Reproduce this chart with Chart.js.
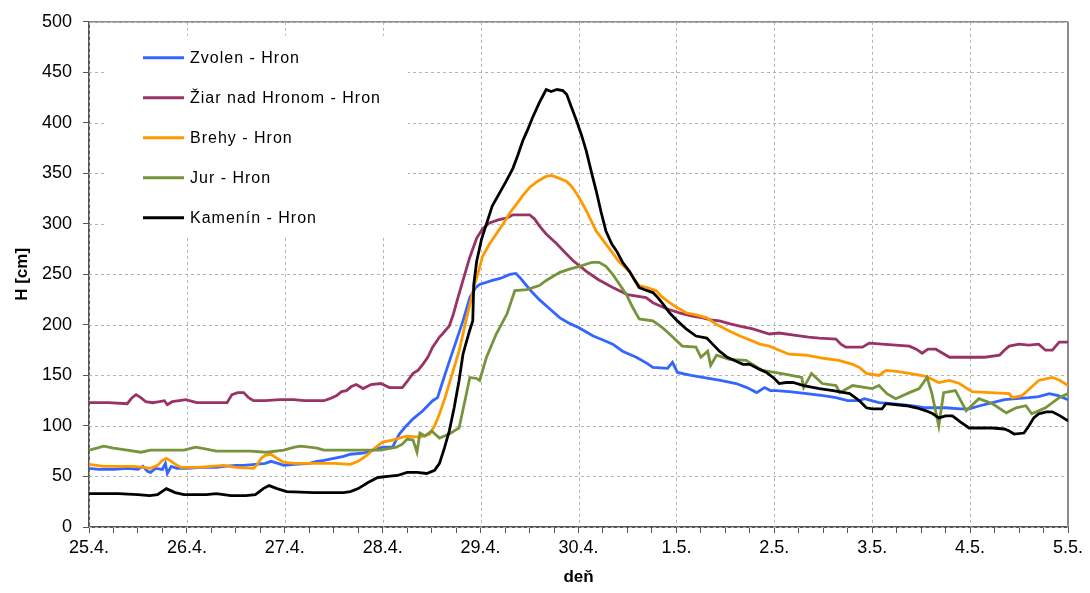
<!DOCTYPE html>
<html>
<head>
<meta charset="utf-8">
<script src="https://cdn.jsdelivr.net/npm/chart.js@4.4.0/dist/chart.umd.min.js"></script>
<style>
html,body{margin:0;padding:0;background:#fff;}
canvas{display:block;}
</style>
</head>
<body>
<canvas id="c" width="1090" height="593"></canvas>
<script>
// days since 25.4. 00:00
const dayLabels = ["25.4.","26.4.","27.4.","28.4.","29.4.","30.4.","1.5.","2.5.","3.5.","4.5.","5.5."];
const names = ["Zvolen - Hron","Žiar nad Hronom - Hron","Brehy - Hron","Jur - Hron","Kamenín - Hron"];
const colors = ["#3366ff","#993366","#ff9900","#77933c","#000000"];

// [day, H cm]
const zvolen = [[0,58],[0.1,57],[0.25,57],[0.4,58],[0.5,57],[0.55,60],[0.6,55],[0.63,54],[0.68,58],[0.75,57],[0.78,63],[0.8,53],[0.84,60],[0.9,58],[1.0,58],[1.15,59],[1.3,59],[1.38,60],[1.5,61],[1.58,61],[1.7,62],[1.8,63],[1.86,65],[1.93,63],[1.99,61],[2.1,62],[2.25,63],[2.33,65],[2.4,66],[2.5,68],[2.6,70],[2.67,72],[2.8,73],[2.9,76],[3.0,79],[3.1,79],[3.17,92],[3.24,100],[3.31,107],[3.41,115],[3.51,125],[3.56,128],[3.6,140],[3.65,155],[3.73,178],[3.82,204],[3.89,227],[3.95,237],[3.99,240],[4.12,244],[4.2,246],[4.3,250],[4.36,251],[4.4,247],[4.46,240],[4.53,232],[4.6,225],[4.67,219],[4.81,207],[4.9,202],[5.01,197],[5.15,189],[5.25,185],[5.35,181],[5.45,174],[5.59,168],[5.7,162],[5.76,158],[5.91,157],[5.96,163],[6.01,153],[6.15,150],[6.27,148],[6.45,145],[6.61,142],[6.72,138],[6.82,133],[6.9,138],[6.96,135],[7.02,135],[7.15,134],[7.33,132],[7.5,130],[7.63,128],[7.75,125],[7.87,125],[7.92,127],[8.07,123],[8.2,122],[8.4,120],[8.55,118],[8.75,118],[8.9,117],[8.99,117],[9.1,120],[9.23,123],[9.35,126],[9.47,127],[9.6,128],[9.7,129],[9.81,132],[9.9,130],[10,126]];

const ziar = [[0,123],[0.2,123],[0.39,122],[0.44,128],[0.48,131],[0.53,128],[0.58,124],[0.65,123],[0.72,124],[0.77,125],[0.8,121],[0.85,124],[0.92,125],[0.99,126],[1.1,123],[1.25,123],[1.41,123],[1.46,131],[1.52,133],[1.58,133],[1.63,128],[1.68,125],[1.8,125],[1.95,126],[2.09,126],[2.2,125],[2.4,125],[2.46,127],[2.53,130],[2.58,134],[2.63,135],[2.68,139],[2.73,141],[2.8,137],[2.88,141],[2.98,142],[3.07,138],[3.2,138],[3.25,144],[3.31,152],[3.36,155],[3.41,161],[3.46,168],[3.51,178],[3.58,188],[3.61,191],[3.68,199],[3.72,210],[3.76,224],[3.82,244],[3.89,267],[3.96,286],[4.02,295],[4.09,301],[4.18,304],[4.27,306],[4.33,309],[4.4,309],[4.5,309],[4.55,305],[4.6,298],[4.67,290],[4.78,280],[4.86,272],[4.94,264],[5.08,253],[5.2,245],[5.35,237],[5.5,230],[5.69,227],[5.76,222],[5.9,216],[6.03,212],[6.15,209],[6.27,207],[6.35,205],[6.44,204],[6.55,201],[6.68,198],[6.78,196],[6.95,191],[7.05,192],[7.2,190],[7.35,188],[7.46,187],[7.63,186],[7.68,181],[7.73,178],[7.9,178],[7.97,182],[8.1,181],[8.38,179],[8.45,176],[8.51,172],[8.57,176],[8.65,176],[8.72,172],[8.79,168],[9.0,168],[9.15,168],[9.3,170],[9.35,175],[9.4,179],[9.5,181],[9.6,180],[9.7,181],[9.77,175],[9.84,175],[9.91,183],[10,183]];

const brehy = [[0,62],[0.15,60],[0.29,60],[0.45,60],[0.56,59],[0.63,58],[0.7,61],[0.75,66],[0.79,68],[0.84,65],[0.9,61],[0.94,59],[1.1,59],[1.25,60],[1.38,61],[1.5,59],[1.68,58],[1.72,62],[1.76,68],[1.8,71],[1.86,72],[1.92,68],[1.99,64],[2.1,63],[2.3,63],[2.5,63],[2.67,62],[2.75,65],[2.84,71],[2.92,78],[3.0,84],[3.1,86],[3.24,90],[3.38,89],[3.48,92],[3.53,100],[3.58,112],[3.63,126],[3.68,142],[3.73,158],[3.78,174],[3.85,204],[3.94,240],[3.99,257],[4.02,268],[4.09,280],[4.16,290],[4.23,300],[4.3,311],[4.37,320],[4.43,328],[4.5,336],[4.58,342],[4.67,347],[4.72,348],[4.78,346],[4.88,342],[4.93,337],[4.98,330],[5.03,322],[5.08,313],[5.13,303],[5.18,293],[5.28,280],[5.35,271],[5.41,263],[5.52,253],[5.57,245],[5.62,239],[5.7,237],[5.79,234],[5.85,228],[5.93,222],[6.01,217],[6.1,212],[6.2,210],[6.31,207],[6.4,201],[6.54,194],[6.65,189],[6.78,184],[6.85,181],[6.95,179],[7.05,175],[7.15,171],[7.33,170],[7.5,167],[7.66,165],[7.8,161],[7.87,158],[7.94,152],[8.07,150],[8.14,155],[8.25,154],[8.38,152],[8.55,149],[8.68,143],[8.79,145],[8.89,142],[9.02,134],[9.2,133],[9.4,132],[9.43,128],[9.53,130],[9.6,136],[9.7,145],[9.84,148],[9.92,145],[10,140]];

const jur = [[0,76],[0.08,78],[0.15,80],[0.25,78],[0.39,76],[0.53,74],[0.63,76],[0.8,76],[0.97,76],[1.09,79],[1.2,77],[1.3,75],[1.5,75],[1.65,75],[1.81,74],[1.99,76],[2.1,79],[2.16,80],[2.25,79],[2.33,78],[2.4,76],[2.5,76],[2.7,76],[2.98,76],[3.14,79],[3.2,82],[3.25,87],[3.31,86],[3.35,74],[3.38,93],[3.43,90],[3.5,95],[3.58,88],[3.68,92],[3.78,98],[3.84,125],[3.89,148],[3.96,147],[3.99,145],[4.06,168],[4.16,191],[4.27,211],[4.35,234],[4.47,235],[4.6,239],[4.67,244],[4.81,252],[4.9,255],[5.01,258],[5.14,262],[5.21,262],[5.28,258],[5.35,250],[5.42,240],[5.49,230],[5.55,218],[5.62,206],[5.76,204],[5.86,197],[5.93,191],[6.06,179],[6.2,178],[6.25,168],[6.32,174],[6.35,160],[6.41,170],[6.54,166],[6.71,165],[6.88,155],[7.0,153],[7.12,151],[7.28,148],[7.3,138],[7.38,152],[7.49,142],[7.63,140],[7.67,133],[7.8,140],[8.0,137],[8.07,140],[8.15,132],[8.24,127],[8.38,133],[8.48,137],[8.56,148],[8.61,132],[8.68,100],[8.73,133],[8.85,135],[8.96,115],[9.09,127],[9.23,122],[9.37,113],[9.47,118],[9.57,120],[9.63,112],[9.77,118],[9.91,128],[10,132]];

const kamenin = [[0,33],[0.3,33],[0.5,32],[0.62,31],[0.7,32],[0.79,38],[0.88,34],[0.97,32],[1.2,32],[1.3,33],[1.45,31],[1.6,31],[1.7,32],[1.78,38],[1.84,41],[1.92,38],[2.02,35],[2.3,34],[2.6,34],[2.67,35],[2.75,38],[2.85,44],[2.95,49],[3.05,50],[3.15,51],[3.25,54],[3.35,54],[3.45,53],[3.53,56],[3.58,63],[3.63,78],[3.68,95],[3.73,118],[3.78,145],[3.82,171],[3.86,185],[3.89,195],[3.92,204],[3.93,240],[3.96,263],[4.01,285],[4.06,300],[4.12,318],[4.19,330],[4.26,342],[4.33,355],[4.38,368],[4.43,382],[4.48,393],[4.53,405],[4.6,420],[4.67,433],[4.72,431],[4.78,433],[4.84,432],[4.88,428],[4.93,415],[4.98,402],[5.03,388],[5.08,372],[5.13,352],[5.18,333],[5.23,312],[5.28,293],[5.34,280],[5.39,273],[5.45,262],[5.52,253],[5.57,245],[5.62,237],[5.67,235],[5.76,232],[5.81,227],[5.86,221],[5.93,212],[6.01,204],[6.1,196],[6.2,189],[6.31,187],[6.38,180],[6.44,174],[6.52,168],[6.61,164],[6.68,161],[6.75,161],[6.85,156],[6.92,153],[7.0,147],[7.05,142],[7.12,143],[7.19,143],[7.3,140],[7.46,137],[7.6,135],[7.77,132],[7.87,125],[7.94,118],[8.0,117],[8.1,117],[8.14,122],[8.35,120],[8.45,118],[8.55,115],[8.62,112],[8.68,108],[8.75,110],[8.82,110],[8.9,104],[8.99,98],[9.1,98],[9.23,98],[9.35,97],[9.4,95],[9.45,92],[9.55,93],[9.6,100],[9.65,108],[9.7,112],[9.78,114],[9.84,114],[9.92,110],[10,105]];

const series = [zvolen, ziar, brehy, jur, kamenin];
const font = "'Liberation Sans', Arial, sans-serif";
const gridGray = "#b4b4b4";

// dashed grid, plot frame and in-plot legend
const decor = {
  id: "decor",
  beforeDatasetsDraw(c) {
    const a = c.chartArea, ctx = c.ctx, xs = c.scales.x, ys = c.scales.y;
    ctx.save();
    ctx.strokeStyle = gridGray;
    ctx.lineWidth = 1;
    ctx.setLineDash([3, 3]);
    ys.ticks.forEach(t => {
      const y = Math.round(ys.getPixelForValue(t.value)) + 0.5;
      ctx.beginPath(); ctx.moveTo(a.left, y); ctx.lineTo(a.right, y); ctx.stroke();
    });
    xs.ticks.forEach(t => {
      if (!Number.isInteger(t.value)) return;
      const x = Math.round(xs.getPixelForValue(t.value)) + 0.5;
      ctx.beginPath(); ctx.moveTo(x, a.top); ctx.lineTo(x, a.bottom); ctx.stroke();
    });
    ctx.setLineDash([]);
    ctx.strokeStyle = "#8c8c8c";
    ctx.lineWidth = 1.5;
    ctx.beginPath(); ctx.moveTo(a.left, a.top); ctx.lineTo(a.right, a.top); ctx.stroke();
    ctx.lineWidth = 2;
    ctx.beginPath(); ctx.moveTo(a.right, a.top); ctx.lineTo(a.right, a.bottom); ctx.stroke();
    ctx.restore();
  },
  afterDatasetsDraw(c) {
    const a = c.chartArea, ctx = c.ctx;
    ctx.save();
    ctx.fillStyle = "#fff";
    ctx.fillRect(a.left + 16, a.top + 14, 303, 201);
    ctx.font = "16px " + font;
    ctx.letterSpacing = "1px";
    ctx.textBaseline = "middle";
    c.data.datasets.forEach((ds, i) => {
      const y = a.top + 36 + i * 40;
      ctx.strokeStyle = ds.borderColor;
      ctx.lineWidth = 3;
      ctx.beginPath();
      ctx.moveTo(a.left + 54, y);
      ctx.lineTo(a.left + 95, y);
      ctx.stroke();
      ctx.fillStyle = "#000";
      ctx.fillText(ds.label, a.left + 101, y + 1);
    });
    ctx.letterSpacing = "0px";
    ctx.restore();
  }
};

new Chart(document.getElementById("c"), {
  type: "line",
  data: {
    datasets: series.map((s, i) => ({
      label: names[i],
      data: s,
      borderColor: colors[i],
      borderWidth: 2.8,
      pointRadius: 0,
      order: series.length - i
    }))
  },
  options: {
    animation: false,
    responsive: false,
    devicePixelRatio: 1,
    layout: { padding: { left: 0, right: 22, top: 20, bottom: 0 } },
    plugins: { legend: { display: false }, tooltip: { enabled: false } },
    scales: {
      x: {
        type: "linear", min: 0, max: 10,
        afterFit(s) { s.height = 66; },
        ticks: {
          stepSize: 0.25, autoSkip: false, maxRotation: 0, color: "#000", padding: 4,
          font: { family: font, size: 18 },
          callback: v => Number.isInteger(v) ? dayLabels[v] : ""
        },
        grid: { drawOnChartArea: false, tickColor: "#555", tickLength: 6, lineWidth: 1 },
        border: { color: "#555", width: 2 },
        title: { display: true, text: "deň", color: "#000", font: { family: font, size: 17, weight: "bold" }, padding: { top: 0, bottom: 5 } }
      },
      y: {
        min: 0, max: 500,
        afterFit(s) { s.width = 89; },
        ticks: { stepSize: 50, color: "#000", padding: 11, font: { family: font, size: 18 } },
        grid: { drawOnChartArea: false, tickColor: "#555", tickLength: 6, lineWidth: 1 },
        border: { color: "#555", width: 2 },
        title: { display: true, text: "H [cm]", color: "#000", font: { family: font, size: 17, weight: "bold" }, padding: { top: 12, bottom: 0 } }
      }
    }
  },
  plugins: [decor]
});
</script>
</body>
</html>
